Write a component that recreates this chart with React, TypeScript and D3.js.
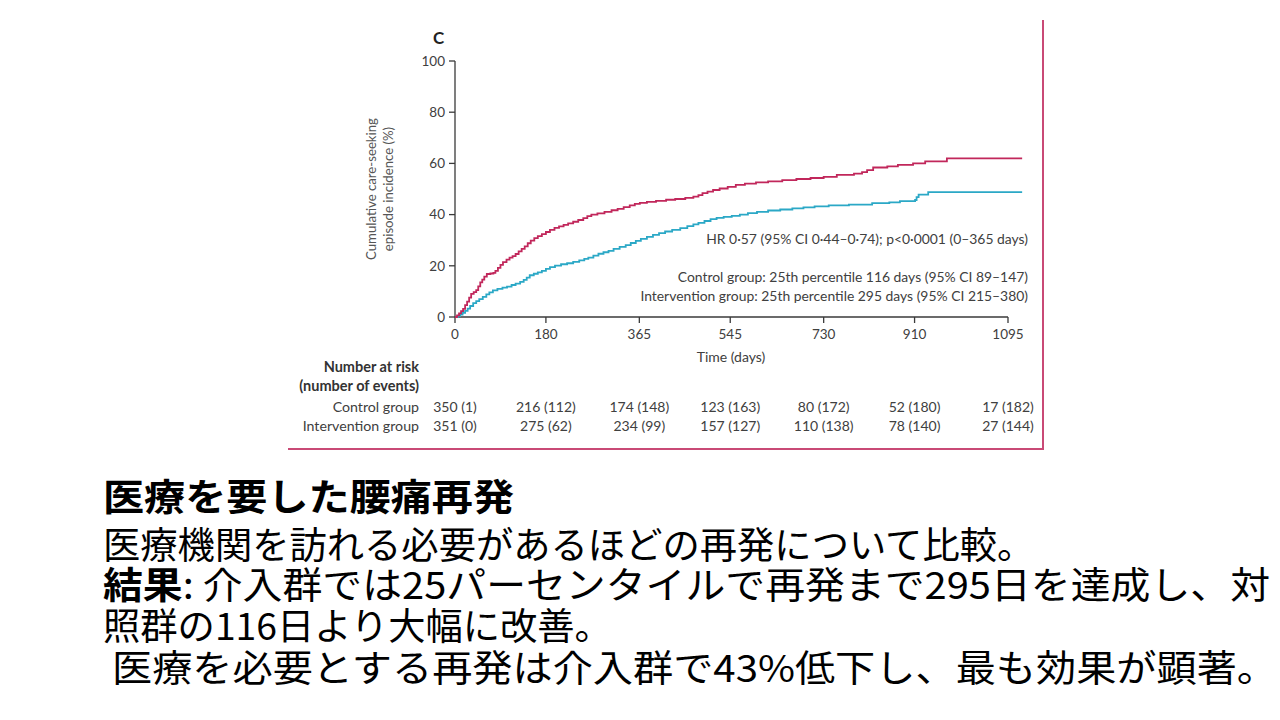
import React from "react";
import * as d3 from "d3";

// ---- Data ----
const xTicks = [0, 180, 365, 545, 730, 910, 1095];
const yTicks = [0, 20, 40, 60, 80, 100];

// Control group cumulative incidence (days, %)
const controlDays = [0,4,8,12,16,20,24,28,32,37,42,46,50,54,58,63,70,76,80,85,90,95,102,108,114,120,126,132,138,144,150,157,164,172,180,188,197,206,215,224,234,244,254,262,270,282,296,310,322,334,346,356,366,380,398,418,436,456,472,482,490,500,511,524,540,556,574,596,620,648,676,704,730,756,790,806,816,828,856,877,907,931,974,1123];
const controlPct = [0,0.6,1.4,2.3,3.2,4.6,6,7.6,9,9.7,10.5,12,13.5,14.6,15.8,16.8,17,17.2,18,19.2,20.4,21.4,22.4,23.2,23.8,24.6,25.6,26.6,27.6,28.8,29.8,30.8,31.6,32.4,33.2,34,34.8,35.4,36,36.6,37.2,37.9,38.6,39.4,40,40.5,41.1,41.7,42.2,42.9,43.6,44.2,44.6,45,45.4,45.8,46.1,46.5,47,47.6,48.4,49,49.6,50.2,50.8,51.6,52.1,52.6,53,53.5,53.9,54.3,54.7,55.5,56,56.6,57.4,58.4,58.8,59.4,60,60.8,62,62];

// Intervention group cumulative incidence (days, %)
const interventionDays = [0,6,10,15,20,25,30,36,42,48,55,62,68,75,84,94,103,112,120,129,136,142,148,156,164,172,180,188,198,210,222,234,246,256,264,274,284,294,304,314,326,338,348,358,368,380,392,404,416,430,446,460,472,482,494,506,518,532,548,564,580,598,620,644,668,690,712,740,780,826,860,881,911,914,918,937,1123];
const interventionPct = [0,0.4,0.9,1.6,2.4,3.3,4.3,5.4,6.2,7,7.9,8.8,9.6,10.4,11,11.5,11.9,12.5,13,13.7,14.5,15.4,16.3,16.9,17.4,18,18.8,19.5,20.1,20.6,21,21.5,22.1,22.7,23.2,24,24.7,25.3,25.8,26.6,27.4,28.1,28.9,29.7,30.5,31.3,32.1,32.8,33.4,34,34.7,35.5,36.2,36.8,37.5,38.2,38.7,39.1,39.5,40,40.6,41.1,41.6,42,42.4,42.8,43.2,43.6,43.9,44.5,44.8,45.3,45.7,46.8,47.8,48.8,48.8];

const riskGroups = ["Control group", "Intervention group"];
const controlRisk = ["350 (1)", "216 (112)", "174 (148)", "123 (163)", "80 (172)", "52 (180)", "17 (182)"];
const interventionRisk = ["351 (0)", "275 (62)", "234 (99)", "157 (127)", "110 (138)", "78 (140)", "27 (144)"];

const annotations = [
  "HR 0·57 (95% CI 0·44–0·74); p<0·0001 (0–365 days)",
  "Control group:  25th percentile 116 days (95% CI 89–147)",
  "Intervention group: 25th percentile 295 days (95% CI 215–380)",
];

const RED = "#c1275b";
const CYAN = "#2ba8c6";
const FRAME = "#c94a76";
const AXIS = "#3a3a3a";
const TXT = "#404040";
const FONT = "Lato, 'Open Sans', sans-serif";
const JP = "'Noto Sans CJK JP', sans-serif";

export default function App() {
  const x = d3.scaleLinear().domain([0, 1095]).range([455, 1008]);
  const y = d3.scaleLinear().domain([0, 100]).range([317, 61]);

  const line = d3
    .line<[number, number]>()
    .x((d) => x(d[0]))
    .y((d) => y(d[1]))
    .curve(d3.curveStepAfter);

  const ctrl = controlDays.map((d, i) => [d, controlPct[i]] as [number, number]);
  const intv = interventionDays.map((d, i) => [d, interventionPct[i]] as [number, number]);

  const jpSize = 37.3;

  return (
    <svg
      width={1280}
      height={720}
      style={{ position: "absolute", left: 0, top: 0, background: "#fff" }}
    >
      <rect x={0} y={0} width={1280} height={720} fill="#fff" />

      {/* frame lines */}
      <line x1={1043} y1={20} x2={1043} y2={450} stroke={FRAME} strokeWidth={2} />
      <line x1={288} y1={449} x2={1044} y2={449} stroke={FRAME} strokeWidth={2} />

      {/* panel letter */}
      <text x={433} y={44} fontFamily={FONT} fontWeight={700} fontSize={17} fill="#222">
        C
      </text>

      {/* y axis */}
      <line x1={x(0)} y1={y(0)} x2={x(0)} y2={y(100)} stroke={AXIS} strokeWidth={1.3} />
      {yTicks.map((t) => (
        <g key={"y" + t}>
          <line x1={x(0) - 6} x2={x(0)} y1={y(t)} y2={y(t)} stroke={AXIS} strokeWidth={1.3} />
          <text
            x={x(0) - 10}
            y={y(t)}
            dy="0.35em"
            textAnchor="end"
            fontFamily={FONT}
            fontSize={13.5}
            fill={TXT}
          >
            {t}
          </text>
        </g>
      ))}

      {/* x axis */}
      <line x1={x(0)} y1={y(0)} x2={x(1095)} y2={y(0)} stroke={AXIS} strokeWidth={1.3} />
      {xTicks.map((t) => (
        <g key={"x" + t}>
          <line x1={x(t)} x2={x(t)} y1={y(0)} y2={y(0) + 6} stroke={AXIS} strokeWidth={1.3} />
          <text
            x={x(t)}
            y={339}
            textAnchor="middle"
            fontFamily={FONT}
            fontSize={13.5}
            fill={TXT}
          >
            {t}
          </text>
        </g>
      ))}
      <text x={731} y={362} textAnchor="middle" fontFamily={FONT} fontSize={14} fill={TXT}>
        Time (days)
      </text>

      {/* y label */}
      <g transform="translate(376,189) rotate(-90)">
        <text textAnchor="middle" fontFamily={FONT} fontSize={13.2} fill="#555">
          Cumulative care-seeking
        </text>
        <text y={16.5} textAnchor="middle" fontFamily={FONT} fontSize={13.2} fill="#555">
          episode incidence (%)
        </text>
      </g>

      {/* curves */}
      <path d={line(intv) || ""} fill="none" stroke={CYAN} strokeWidth={1.8} />
      <path d={line(ctrl) || ""} fill="none" stroke={RED} strokeWidth={1.8} />

      {/* annotations */}
      {annotations.map((a, i) => (
        <text
          key={a}
          x={1028}
          y={[244, 282, 301][i]}
          textAnchor="end"
          fontFamily={FONT}
          fontSize={13.9}
          fill={TXT}
        >
          {a}
        </text>
      ))}

      {/* number at risk */}
      <text x={419} y={372} textAnchor="end" fontFamily={FONT} fontWeight={700} fontSize={14.5} fill="#333">
        Number at risk
      </text>
      <text x={419} y={391} textAnchor="end" fontFamily={FONT} fontWeight={700} fontSize={14.5} fill="#333">
        (number of events)
      </text>
      {riskGroups.map((g, i) => (
        <text key={g} x={419} y={[412, 431][i]} textAnchor="end" fontFamily={FONT} fontSize={14.2} fill={TXT}>
          {g}
        </text>
      ))}
      {xTicks.map((t, i) => (
        <g key={"r" + t}>
          <text x={x(t)} y={412} textAnchor="middle" fontFamily={FONT} fontSize={14} fill={TXT}>
            {controlRisk[i]}
          </text>
          <text x={x(t)} y={431} textAnchor="middle" fontFamily={FONT} fontSize={14} fill={TXT}>
            {interventionRisk[i]}
          </text>
        </g>
      ))}

      {/* Japanese text */}
      <g fontFamily={JP} fontSize={jpSize} fill="#000">
        <text x={103} y={511} fontWeight={700} textLength={411} lengthAdjust="spacingAndGlyphs">
          医療を要した腰痛再発
        </text>
        <text x={103} y={559}>医療機関を訪れる必要があるほどの再発について比較。</text>
        <text x={103} y={599} textLength={1167} lengthAdjust="spacingAndGlyphs">
          <tspan fontWeight={700}>結果</tspan>
          <tspan>: 介入群では25パーセンタイルで再発まで295日を達成し、対</tspan>
        </text>
        <text x={103} y={640}>照群の116日より大幅に改善。</text>
        <text x={103} y={682} xmlSpace="preserve" textLength={1174} lengthAdjust="spacingAndGlyphs"> 医療を必要とする再発は介入群で43%低下し、最も効果が顕著。</text>
      </g>
    </svg>
  );
}
